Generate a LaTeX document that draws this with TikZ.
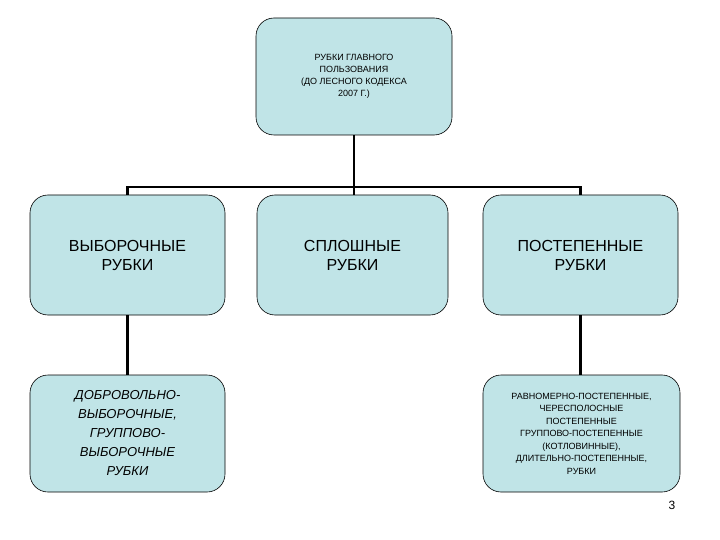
\documentclass[tikz,border=0pt]{standalone}
\usepackage{fontspec}
\setmainfont{Liberation Sans}
\begin{document}
\begin{tikzpicture}[x=1pt,y=-1pt,
 box/.style={draw=black,line width=0.6pt,fill=boxc,rounded corners=18pt,align=center,inner sep=2pt},
 big/.style={font=\fontsize{16}{19}\selectfont},
 small/.style={font=\fontsize{9}{12}\selectfont},
 wire/.style={line width=2.2pt}]
\definecolor{boxc}{HTML}{C0E4E7}
\useasboundingbox (0,0) rectangle (720,540);
\node[box,small,minimum width=196pt,minimum height=117pt] (top) at (354,76.5) {РУБКИ ГЛАВНОГО\\ПОЛЬЗОВАНИЯ\\(ДО ЛЕСНОГО КОДЕКСА\\2007 Г.)};
\node[box,big,minimum width=195pt,minimum height=120pt] (a) at (127.5,255) {ВЫБОРОЧНЫЕ\\РУБКИ};
\node[box,big,minimum width=191pt,minimum height=120pt] (b) at (352.5,255) {СПЛОШНЫЕ\\РУБКИ};
\node[box,big,minimum width=195pt,minimum height=120pt] (c) at (580.5,255) {ПОСТЕПЕННЫЕ\\РУБКИ};
\node[box,font=\fontsize{13}{19}\selectfont\itshape,minimum width=195pt,minimum height=117pt] (d) at (127.5,433.5) {ДОБРОВОЛЬНО-\\ВЫБОРОЧНЫЕ,\\ГРУППОВО-\\ВЫБОРОЧНЫЕ\\РУБКИ};
\node[box,font=\fontsize{9}{12.5}\selectfont,minimum width=197pt,minimum height=117pt] (e) at (581.5,433.5) {РАВНОМЕРНО-ПОСТЕПЕННЫЕ,\\ЧЕРЕСПОЛОСНЫЕ\\ПОСТЕПЕННЫЕ\\ГРУППОВО-ПОСТЕПЕННЫЕ\\(КОТЛОВИННЫЕ),\\ДЛИТЕЛЬНО-ПОСТЕПЕННЫЕ,\\РУБКИ};
\coordinate (h) at (354,187);
\draw[wire] (top.south) -- (h);
\draw[wire] (a.north) -- (a.north |- h) -- (c.north |- h) -- (c.north);
\draw[wire] (b.north -| h) -- (h);
\draw[wire] (a.south) -- (d.north);
\draw[wire] (c.south) -- (c.south |- e.north);
\node[font=\fontsize{12}{14}\selectfont] (p) at (672,505) {3};
\end{tikzpicture}
\end{document}
